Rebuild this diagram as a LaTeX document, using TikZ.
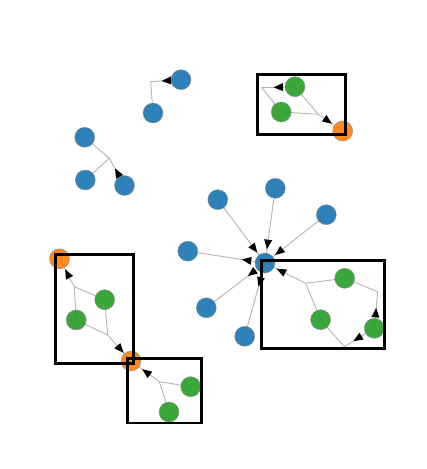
\documentclass[tikz,border=0pt]{standalone}
\usetikzlibrary{calc}
\definecolor{nblue}{HTML}{1F77B4}
\definecolor{ngreen}{HTML}{2CA02C}
\definecolor{norange}{HTML}{FF7F0E}
\definecolor{edgegray}{HTML}{B4B4B4}
\pgfdeclarelayer{bg}
\pgfsetlayers{bg,main}
% arrowhead pointing at #1, apex #3pt from #1 on the line towards #2
\newcommand{\headin}[3]{%
  \path ($(#1)!#3pt!(#2)$) coordinate (hA);
  \path ($(hA)!9.5pt!(#2)$) coordinate (hB);
  \fill[black] (hA) -- ($(hB)!4pt!90:(hA)$) -- ($(hB)!4pt!-90:(hA)$) -- cycle;}
% arrowhead with its base #3pt from #1, pointing away from #1 towards #2
\newcommand{\headout}[3]{%
  \path ($(#1)!#3pt!(#2)$) coordinate (hB);
  \path ($(hB)!9.5pt!(#2)$) coordinate (hA);
  \fill[black] (hA) -- ($(hB)!4pt!90:(hA)$) -- ($(hB)!4pt!-90:(hA)$) -- cycle;}
\begin{document}
\begin{tikzpicture}[x=1pt,y=-1pt,
  vert/.style={circle,minimum size=20pt,inner sep=0pt,draw=black!45,line width=0.4pt,fill opacity=0.93},
  bl/.style={vert,fill=nblue},
  gr/.style={vert,fill=ngreen},
  og/.style={vert,fill=norange},
  link/.style={draw=edgegray,line width=0.9pt},
  grp/.style={draw=black,line width=2.8pt}]
\useasboundingbox (0,0) rectangle (427,469);
% nodes
\node[bl] (B1) at (181,79.7) {};
\node[bl] (B2) at (153,113) {};
\node[bl] (B3) at (84.7,137.3) {};
\node[bl] (B4) at (85.3,180) {};
\node[bl] (B5) at (124.5,185.5) {};
\node[bl] (B6) at (217.8,199.7) {};
\node[bl] (B7) at (275.3,188.3) {};
\node[bl] (B8) at (326.3,214.7) {};
\node[bl] (B9) at (187.8,251.2) {};
\node[bl] (hub) at (265,263) {};
\node[bl] (B11) at (206.3,307.8) {};
\node[bl] (B12) at (244.7,336.3) {};
\node[gr] (G1) at (295,86.7) {};
\node[gr] (G2) at (281.2,112) {};
\node[gr] (G3) at (344.7,278.3) {};
\node[gr] (G4) at (320.6,319.7) {};
\node[gr] (G5) at (374.3,328.3) {};
\node[gr] (G6) at (104.7,299.7) {};
\node[gr] (G7) at (76.2,320) {};
\node[gr] (G8) at (190.7,386.7) {};
\node[gr] (G9) at (169,412) {};
\node[og] (O1) at (342.7,131) {};
\node[og] (O2) at (59.5,258.8) {};
\node[og] (O3) at (131,361) {};
% junctions
\coordinate (Ja) at (150.7,81.7);
\coordinate (Jb) at (109.3,158.3);
\coordinate (J1) at (261.7,87.7);
\coordinate (J2) at (318.3,114.3);
\coordinate (J3) at (305.7,283.3);
\coordinate (J4) at (377.7,291.7);
\coordinate (J5) at (344.3,346.7);
\coordinate (J6) at (74.3,286.7);
\coordinate (J7) at (107.7,335);
\coordinate (J8) at (159.3,381.7);
% connectors
\begin{pgfonlayer}{bg}
\draw[link] (B2.center) -- (Ja) -- (B1.center);
\draw[link] (B3.center) -- (Jb) (B4.center) -- (Jb) (Jb) -- (B5.center);
\draw[link] (G2.center) -- (J1) -- (G1.center);
\draw[link] (G1.center) -- (J2) (G2.center) -- (J2) (J2) -- (O1.center);
\foreach \b in {B6,B7,B8,B9,B11,B12} \draw[link] (\b.center) -- (hub.center);
\draw[link] (hub.center) -- (J3) (J3) -- (G3.center) (J3) -- (G4.center);
\draw[link] (G3.center) -- (J4) -- (G5.center);
\draw[link] (G4.center) -- (J5) -- (G5.center);
\draw[link] (O2.center) -- (J6) (J6) -- (G6.center) (J6) -- (G7.center);
\draw[link] (G6.center) -- (J7) (G7.center) -- (J7) (J7) -- (O3.center);
\draw[link] (O3.center) -- (J8) (J8) -- (G8.center) (J8) -- (G9.center);
\end{pgfonlayer}
% arrowheads
\headout{B1.center}{Ja}{10}
\headout{B5.center}{Jb}{10}
\headout{G1.center}{J1}{12}
\headin{O1.center}{J2}{13}
\headin{hub.center}{B6.center}{13}
\headin{hub.center}{B7.center}{14}
\headin{hub.center}{B8.center}{13}
\headin{hub.center}{J3}{13}
\headout{hub.center}{B9.center}{14}
\headout{hub.center}{B11.center}{12}
\headout{hub.center}{B12.center}{15}
\headout{G5.center}{J4}{11}
\headout{G5.center}{J5}{15}
\headin{O2.center}{J6}{12}
\headin{O3.center}{J7}{11}
\headin{O3.center}{J8}{14}
% groups
\draw[grp] (257.3,74.7) rectangle (345.8,134.2);
\draw[grp] (55.5,254.8) rectangle (133.8,363.8);
\draw[grp] (127.5,358.2) rectangle (201.5,423);
\draw[grp] (261.5,260.5) rectangle (384.2,348.8);
\end{tikzpicture}
\end{document}
